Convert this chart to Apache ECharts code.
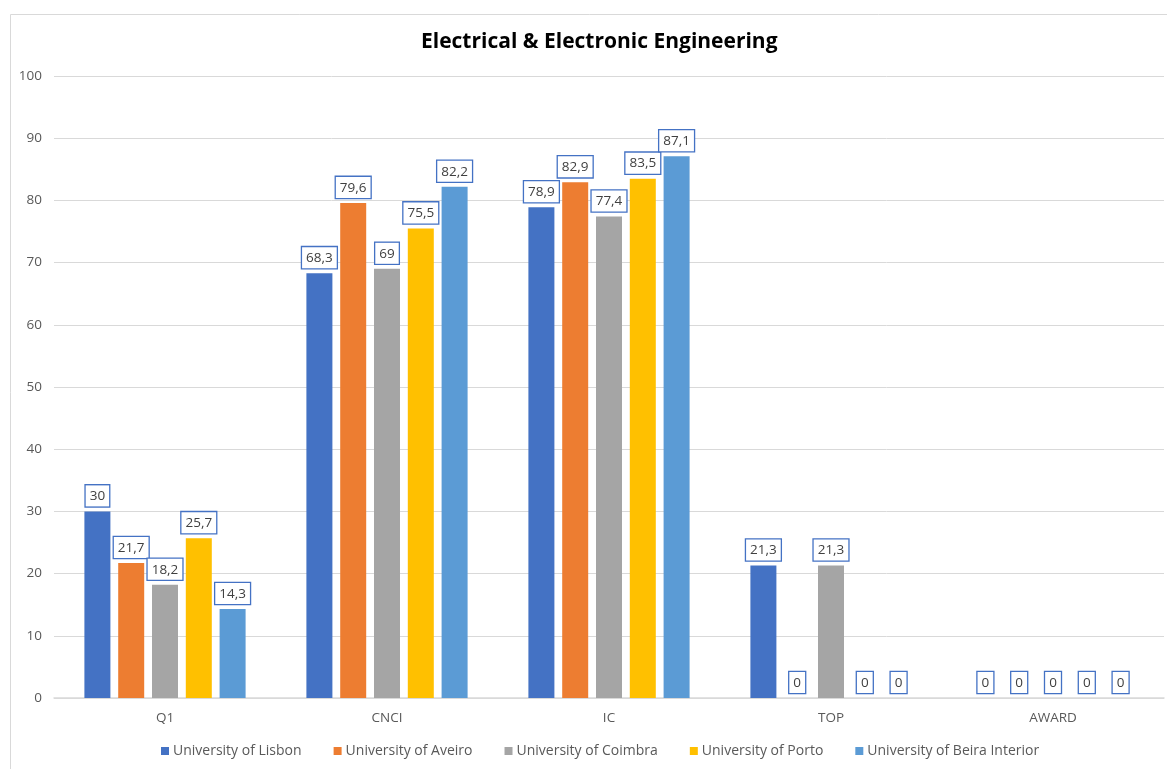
<!DOCTYPE html>
<html><head><meta charset="utf-8">
<script src="https://cdn.jsdelivr.net/npm/echarts@6/dist/echarts.min.js"></script>
<style>html,body{margin:0;padding:0;background:#fff}#c{width:1167px;height:769px}</style>
</head><body><div id="c"></div>
<script>
const categories = ['Q1', 'CNCI', 'IC', 'TOP', 'AWARD'];
const seriesNames = ['University of Lisbon', 'University of Aveiro', 'University of Coimbra', 'University of Porto', 'University of Beira Interior'];
const lisbon = [30, 68.3, 78.9, 21.3, 0];
const aveiro = [21.7, 79.6, 82.9, 0, 0];
const coimbra = [18.2, 69, 77.4, 21.3, 0];
const porto = [25.7, 75.5, 83.5, 0, 0];
const beira = [14.3, 82.2, 87.1, 0, 0];
const colors = ['#4472C4', '#ED7D31', '#A5A5A5', '#FFC000', '#5B9BD5'];
const allValues = [lisbon, aveiro, coimbra, porto, beira];

const FONT = '"Open Sans", "Liberation Sans", sans-serif';
const chart = echarts.init(document.getElementById('c'));
chart.setOption({
  animation: false,
  color: colors,
  title: {
    text: 'Electrical & Electronic Engineering',
    left: 416, top: 27,
    textStyle: { fontFamily: FONT, fontWeight: 'bold', fontSize: 21, color: '#000' }
  },
  graphic: [{
    type: 'rect', left: 8, top: 12, shape: { width: 1200, height: 800 },
    style: { fill: 'none', stroke: '#d9d9d9', lineWidth: 1 }, silent: true, z: -1
  }],
  legend: {
    bottom: 6, left: 156, itemWidth: 8, itemHeight: 8, itemGap: 32,
    icon: 'rect',
    textStyle: { fontFamily: FONT, fontSize: 14, color: '#595959', padding: [0, 0, 0, -1] }
  },
  grid: { left: 54, right: 3, top: 76, bottom: 71, containLabel: false },
  xAxis: {
    type: 'category', data: categories,
    axisLine: { lineStyle: { color: '#d9d9d9', width: 1.5 } },
    axisTick: { show: false },
    axisLabel: { fontFamily: FONT, fontSize: 13.5, color: '#595959', margin: 13 }
  },
  yAxis: {
    type: 'value', min: 0, max: 100, interval: 10,
    axisLine: { show: false }, axisTick: { show: false },
    splitLine: { lineStyle: { color: '#d9d9d9', width: 1 } },
    axisLabel: { fontFamily: FONT, fontSize: 13.5, color: '#595959', margin: 12 }
  },
  series: seriesNames.map((n, i) => ({
    name: n, type: 'bar', data: allValues[i],
    barWidth: 26, barGap: '30%',
    label: {
      show: true, position: 'top', distance: 5,
      fontFamily: FONT, fontSize: 13.5, color: '#404040',
      backgroundColor: '#fff', borderColor: '#4472C4', borderWidth: 1.3,
      padding: [4, 4, 3, 4],
      formatter: p => String(p.value).replace('.', ',')
    }
  }))
});
</script></body></html>
